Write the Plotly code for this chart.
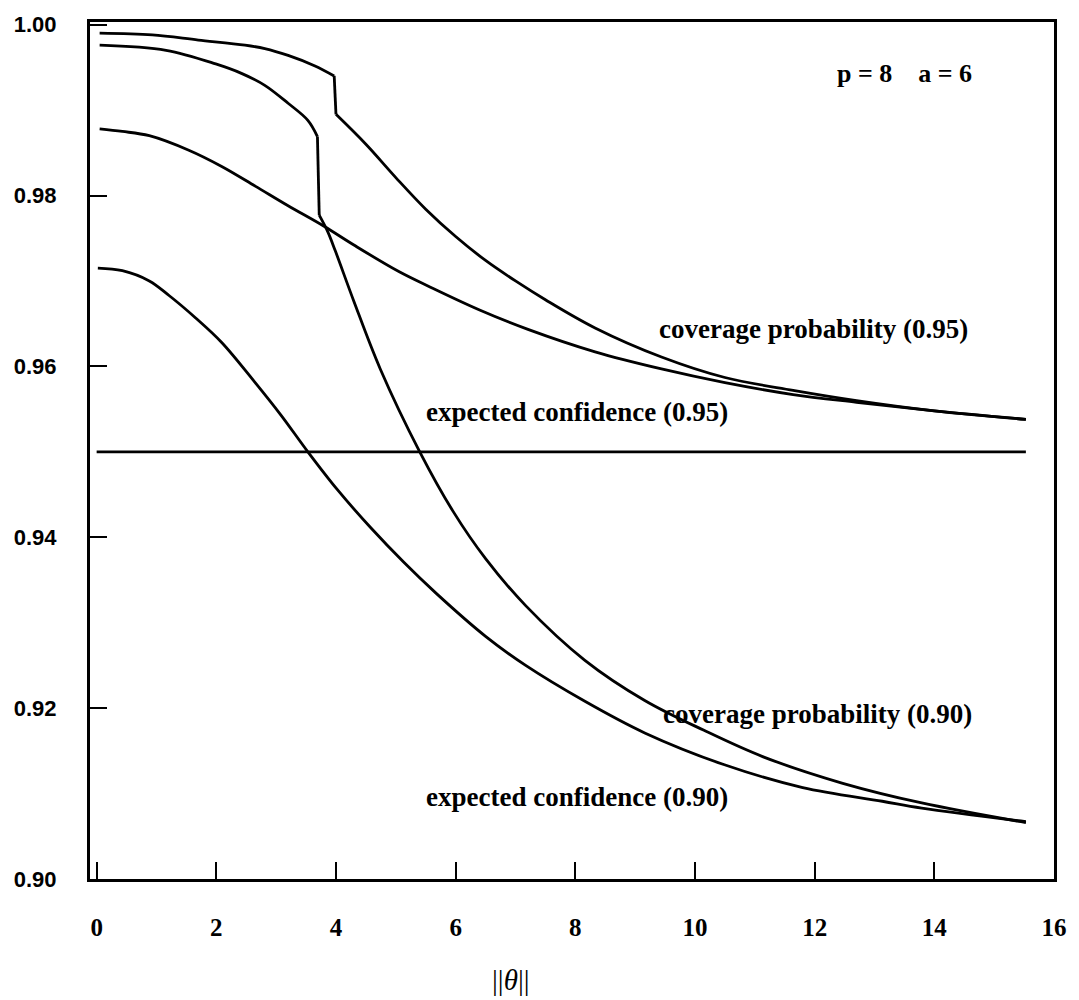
import plotly.graph_objects as go

# coverage probability (0.95); jump between index DROP95 and DROP95+1
cov95_x = [0.05, 0.93, 1.7, 2.48, 2.81, 3.2, 3.64, 3.97,
           4.0, 4.5, 5.0, 5.5, 6.0, 6.5, 7.0, 7.5, 8.33, 9.44, 10.5, 11.64, 12.7, 14.0, 15.53]
cov95_y = [0.9990, 0.9988, 0.9982, 0.9976, 0.9972, 0.9964, 0.9952, 0.9940,
           0.9895, 0.9860, 0.9821, 0.9784, 0.9752, 0.9724, 0.9700, 0.9678, 0.9645, 0.9611, 0.9587,
           0.9572, 0.9560, 0.9548, 0.9538]
DROP95 = 7

# expected confidence (0.95)
exp95_x = [0.05, 0.43, 0.88, 1.54, 2.09, 2.65, 3.2, 3.8, 4.3, 5.05, 5.57, 6.4, 7.22, 8.33, 9.44, 10.5,
           11.64, 12.7, 14.0, 15.53]
exp95_y = [0.9878, 0.9875, 0.9870, 0.9853, 0.9834, 0.9811, 0.9788, 0.9764, 0.9742, 0.9711, 0.9693, 0.9666,
           0.9643, 0.9617, 0.9597, 0.9581, 0.9567, 0.9558, 0.9548, 0.9538]

# coverage probability (0.90); jump between index DROP90 and DROP90+1
cov90_x = [0.05, 1.16, 1.99, 2.42, 2.81, 3.2, 3.53, 3.69,
           3.72, 3.86, 3.99, 4.3, 4.74, 5.4, 5.96, 6.5, 7.17, 8.16, 9.16, 10.15, 11.14, 12.47, 13.79, 15.53]
cov90_y = [0.9976, 0.9970, 0.9954, 0.9943, 0.9929, 0.9908, 0.9888, 0.9869,
           0.9777, 0.9758, 0.9735, 0.9676, 0.9597, 0.9500, 0.9430, 0.9375, 0.9320, 0.9256, 0.9209,
           0.9174, 0.9143, 0.9112, 0.9089, 0.9066]
DROP90 = 7

# expected confidence (0.90)
exp90_x = [0.02, 0.43, 0.88, 1.21, 1.65, 2.09, 2.65, 3.08, 3.53, 4.02, 4.57, 5.13, 5.68, 6.5, 7.17, 8.16,
           9.16, 10.48, 11.8, 13.13, 13.79, 15.53]
exp90_y = [0.9715, 0.9712, 0.9700, 0.9683, 0.9657, 0.9628, 0.9581, 0.9543, 0.9500, 0.9456, 0.9412, 0.9371,
           0.9334, 0.9284, 0.9250, 0.9208, 0.9171, 0.9134, 0.9107, 0.9091, 0.9083, 0.9067]

# nominal level line
ref_x = [0.0, 15.53]
ref_y = [0.95, 0.95]

x_ticks = [0, 2, 4, 6, 8, 10, 12, 14, 16]
x_tick_labels = ["0", "2", "4", "6", "8", "10", "12", "14", "16"]
y_ticks = [0.90, 0.92, 0.94, 0.96, 0.98, 1.00]
y_tick_labels = ["0.90", "0.92", "0.94", "0.96", "0.98", "1.00"]

curve_labels = [
    ("coverage probability (0.95)", 11.98, 0.96443),
    ("expected confidence (0.95)", 8.02, 0.95464),
    ("coverage probability (0.90)", 12.05, 0.91934),
    ("expected confidence (0.90)", 8.02, 0.90955),
]
param_label = ("p\u00a0=\u00a08\u00a0\u00a0\u00a0\u00a0a\u00a0=\u00a06", 13.5, 0.99425)

LINE = dict(color="black", width=2.8)
SMOOTH = 1.0

fig = go.Figure()


def add(xs, ys, shape="spline"):
    kw = dict(shape=shape, **LINE)
    if shape == "spline":
        kw["smoothing"] = SMOOTH
    fig.add_trace(go.Scatter(x=xs, y=ys, mode="lines", line=kw, showlegend=False, hoverinfo="skip"))


for xs, ys, d in [(cov95_x, cov95_y, DROP95), (cov90_x, cov90_y, DROP90)]:
    add(xs[:d + 1], ys[:d + 1])
    add(xs[d:d + 2], ys[d:d + 2], shape="linear")
    add(xs[d + 1:], ys[d + 1:])
add(exp95_x, exp95_y)
add(exp90_x, exp90_y)
add(ref_x, ref_y, shape="linear")

serif = "Liberation Serif"
for text, xx, yy in curve_labels:
    fig.add_annotation(x=xx, y=yy, text=f"<b>{text}</b>", showarrow=False, xref="x", yref="y",
                       font=dict(family=serif, size=27, color="black"))
fig.add_annotation(x=param_label[1], y=param_label[2], text=f"<b>{param_label[0]}</b>", showarrow=False,
                   xref="x", yref="y", font=dict(family=serif, size=26, color="black"))
fig.add_annotation(x=0.437, y=-0.1180, xref="paper", yref="paper", yanchor="middle",
                   text="||<i>θ</i>||", showarrow=False,
                   font=dict(family=serif, size=29, color="black"))

fig.update_layout(
    width=1079, height=1000,
    margin=dict(l=90, r=17, t=18, b=121),
    paper_bgcolor="white", plot_bgcolor="white",
    showlegend=False,
)
fig.update_xaxes(
    range=[-0.111, 16.0], tickmode="array", tickvals=x_ticks, ticktext=[f"<b>{t}</b>" for t in x_tick_labels],
    ticks="inside", ticklen=17, tickwidth=2.2, tickcolor="black",
    showline=True, linecolor="black", linewidth=3, mirror=True,
    showgrid=False, zeroline=False, ticklabelstandoff=24,
    tickfont=dict(family=serif, size=25, color="black"),
)
fig.update_yaxes(
    range=[0.90, 1.00031], tickmode="array", tickvals=y_ticks, ticktext=[f"<b>{t}</b>" for t in y_tick_labels],
    ticks="inside", ticklen=17, tickwidth=2.2, tickcolor="black",
    showline=True, linecolor="black", linewidth=3, mirror=True,
    showgrid=False, zeroline=False, ticklabelstandoff=26,
    tickfont=dict(family="Liberation Sans", size=22, color="black"),
)
fig.write_html("out.html")
